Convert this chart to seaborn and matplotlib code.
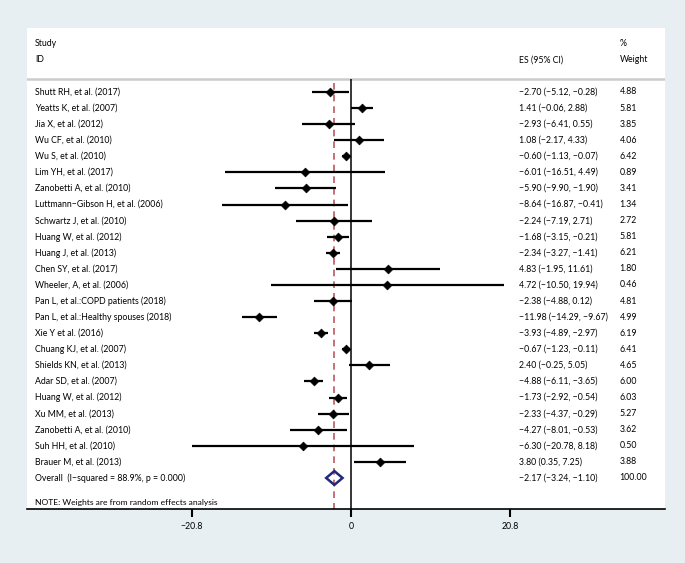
import pandas as pd
import matplotlib
matplotlib.use('Agg')
import matplotlib.pyplot as plt
from matplotlib.patches import FancyArrowPatch
import seaborn as sns


studies = ['Shutt RH, et al. (2017)', 'Yeatts K, et al. (2007)', 'Jia X, et al. (2012)',
           'Wu CF, et al. (2010)', 'Wu S, et al. (2010)', 'Lim YH, et al. (2017)',
           'Zanobetti A, et al. (2010)', 'Luttmann\u2212Gibson H, et al. (2006)',
           'Schwartz J, et al. (2010)', 'Huang W, et al. (2012)', 'Huang J, et al. (2013)',
           'Chen SY, et al. (2017)', 'Wheeler, A, et al. (2006)',
           'Pan L, et al.:COPD patients (2018)', 'Pan L, et al.:Healthy spouses (2018)',
           'Xie Y et al. (2016)', 'Chuang KJ, et al. (2007)', 'Shields KN, et al. (2013)',
           'Adar SD, et al. (2007)', 'Huang W, et al. (2012)', 'Xu MM, et al. (2013)',
           'Zanobetti A, et al. (2010)', 'Suh HH, et al. (2010)', 'Brauer M, et al. (2013)']
es = [-2.70, 1.41, -2.93, 1.08, -0.60, -6.01, -5.90, -8.64, -2.24, -1.68, -2.34, 4.83,
      4.72, -2.38, -11.98, -3.93, -0.67, 2.40, -4.88, -1.73, -2.33, -4.27, -6.30, 3.80]
lo = [-5.12, -0.06, -6.41, -2.17, -1.13, -16.51, -9.90, -16.87, -7.19, -3.15, -3.27, -1.95,
      -10.50, -4.88, -14.29, -4.89, -1.23, -0.25, -6.11, -2.92, -4.37, -8.01, -20.78, 0.35]
hi = [-0.28, 2.88, 0.55, 4.33, -0.07, 4.49, -1.90, -0.41, 2.71, -0.21, -1.41, 11.61,
      19.94, 0.12, -9.67, -2.97, -0.11, 5.05, -3.65, -0.54, -0.29, -0.53, 8.18, 7.25]
weights = [4.88, 5.81, 3.85, 4.06, 6.42, 0.89, 3.41, 1.34, 2.72, 5.81, 6.21, 1.80,
           0.46, 4.81, 4.99, 6.19, 6.41, 4.65, 6.00, 6.03, 5.27, 3.62, 0.50, 3.88]
overall = (-2.17, -3.24, -1.10)
overall_label = 'Overall  (I\u2212squared = 88.9%, p = 0.000)'
tick_vals = [-20.8, 0, 20.8]
tick_labels = ['\u221220.8', '0', '20.8']

df = pd.DataFrame({'study': studies, 'es': es, 'lo': lo, 'hi': hi, 'w': weights})
df['row'] = range(len(df))
n = len(df)

BG = '#e8eff2'
plt.rcParams['font.family'] = ['Lato', 'DejaVu Sans']


def fmt(v):
    return f'{v:.2f}'.replace('-', '\u2212')


fig = plt.figure(figsize=(6.85, 5.63), dpi=100, facecolor=BG)
ax = fig.add_axes([0.0394, 0.0959, 0.9314, 0.8544])
ax.set_facecolor('white')

# the original uses a condensed face: size the text so the longest study
# label is about as wide as in the reference
probe = fig.text(0, 0, 'Luttmann\u2212Gibson H, et al. (2006)', fontsize=10)
fig.canvas.draw()
pw = probe.get_window_extent(fig.canvas.get_renderer()).width
probe.remove()
fs = 10 * 128 / pw

clip = tick_vals[0]
# confidence intervals, clipped at the axis end with an arrow
for _, r in df.iterrows():
    left = max(r['lo'], clip)
    ax.hlines(r['row'], left, r['hi'], color='black', lw=1.6, zorder=3)
    if r['lo'] < clip:
        arr = FancyArrowPatch((clip + 2, r['row']), (clip, r['row']),
                              arrowstyle='->,head_length=0.35,head_width=0.32',
                              mutation_scale=12, lw=1.6, color='black',
                              shrinkA=0, shrinkB=0, zorder=5)
        ax.add_patch(arr)

sns.scatterplot(data=df, x='es', y='row', marker='D', s=20, color='black',
                edgecolor='black', linewidth=0.5, ax=ax, zorder=4, legend=False)

# overall diamond
oy = n
ax.fill([overall[1], overall[0], overall[2], overall[0]],
        [oy, oy - 0.43, oy, oy + 0.43], facecolor='none', edgecolor='#1f2a7a', lw=1.8, zorder=4)

# reference lines
ax.vlines(0, -0.8, 25.93, color='black', lw=1.1, zorder=2)
ax.vlines(overall[0], -0.55, 25.9, color='#b85a60', lw=1.2, linestyles=(0, (4, 3)), zorder=2)
ax.axhline(-0.8, color='#cccccc', lw=1.8, zorder=1)

ax.set_xlim(-42.35, 41.05)
ax.set_ylim(25.93, -3.98)

xt = ax.get_yaxis_transform()
tx_left, tx_es, tx_w = 0.0125, 0.771, 0.929
ax.text(tx_left, -3, 'Study', transform=xt, fontsize=fs, va='center')
ax.text(tx_left, -2, 'ID', transform=xt, fontsize=fs, va='center')
ax.text(tx_es, -2, 'ES (95% CI)', transform=xt, fontsize=fs, va='center')
ax.text(tx_w, -3, '%', transform=xt, fontsize=fs, va='center')
ax.text(tx_w, -2, 'Weight', transform=xt, fontsize=fs, va='center')

for _, r in df.iterrows():
    ax.text(tx_left, r['row'], r['study'], transform=xt, fontsize=fs, va='center')
    ax.text(tx_es, r['row'], f"{fmt(r['es'])} ({fmt(r['lo'])}, {fmt(r['hi'])})",
            transform=xt, fontsize=fs, va='center')
    ax.text(tx_w, r['row'], f"{r['w']:.2f}", transform=xt, fontsize=fs, va='center')

ax.text(tx_left, oy, overall_label, transform=xt, fontsize=fs, va='center')
ax.text(tx_es, oy, f'{fmt(overall[0])} ({fmt(overall[1])}, {fmt(overall[2])})',
        transform=xt, fontsize=fs, va='center')
ax.text(tx_w, oy, '100.00', transform=xt, fontsize=fs, va='center')
ax.text(tx_left, n + 1.5, 'NOTE: Weights are from random effects analysis',
        transform=xt, fontsize=fs * 0.97, va='center')

for s in ['top', 'right', 'left']:
    ax.spines[s].set_visible(False)
ax.spines['bottom'].set_linewidth(1.2)
ax.set_yticks([])
ax.set_xticks(tick_vals)
ax.set_xticklabels(tick_labels, fontsize=fs)
ax.tick_params(axis='x', length=6, width=1.5, pad=3)
ax.set_xlabel('')
ax.set_ylabel('')

fig.savefig('out.png', dpi=100, facecolor=BG)
